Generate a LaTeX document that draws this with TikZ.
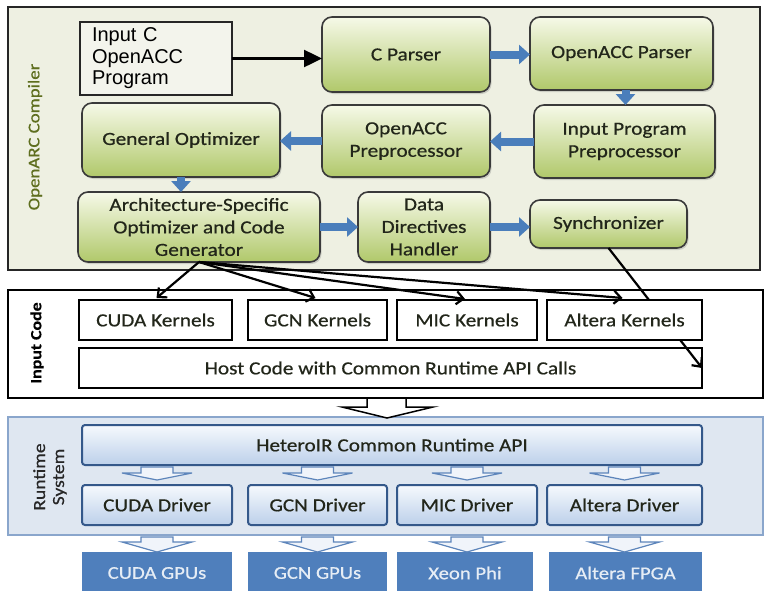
\documentclass[tikz,border=0pt]{standalone}
\usepackage{fontspec}
\setmainfont{Carlito}[FakeStretch=1.15,FakeBold=0.6]
\newfontfamily\arialfont{Liberation Sans}
\usetikzlibrary{arrows.meta,calc,shadows}
\definecolor{cpbg}{HTML}{EEF0E2}
\definecolor{gtop}{HTML}{F6F9E8}
\definecolor{gbot}{HTML}{B0C86A}
\definecolor{gborder}{HTML}{3A3A3A}
\definecolor{oarc}{HTML}{5E6E1E}
\definecolor{blkarrow}{HTML}{4A7EBB}
\definecolor{rtbg}{HTML}{DFE7F1}
\definecolor{rtborder}{HTML}{8AA6CC}
\definecolor{btop}{HTML}{F6F9FD}
\definecolor{bbot}{HTML}{BCD0EA}
\definecolor{bborder}{HTML}{34588A}
\definecolor{hwfill}{HTML}{4F7FBC}
\definecolor{hwtext}{HTML}{E6EDF5}
\definecolor{sarrfill}{HTML}{F0F4FA}
\definecolor{sarrdraw}{HTML}{5D85BB}
\definecolor{inbg}{HTML}{F3F4EC}
\definecolor{gtext}{HTML}{22261A}
\begin{document}
\begin{tikzpicture}[x=1pt,y=-1pt,
  panel/.style={inner sep=0pt,outer sep=0pt},
  gbox/.style={draw=gborder,line width=1.6pt,rounded corners=10pt,top color=gtop,bottom color=gbot,
    drop shadow={shadow xshift=1.5pt,shadow yshift=-2pt,opacity=0.3},
    align=center,text=gtext,font=\fontsize{18.5}{22.5}\selectfont,inner sep=0pt,outer sep=0pt},
  kbox/.style={draw=black,line width=1.8pt,fill=white,text=gtext,font=\fontsize{18.5}{22.5}\selectfont,inner sep=0pt,outer sep=0pt},
  bbox/.style={draw=bborder,line width=2pt,rounded corners=3pt,top color=btop,bottom color=bbot,text=gtext,
    font=\fontsize{18.5}{22.5}\selectfont,inner sep=0pt,outer sep=0pt},
  hbox/.style={fill=hwfill,text=hwtext,font=\fontsize{18}{22}\selectfont,inner sep=0pt,outer sep=0pt},
  blk/.style={draw=blkarrow,line width=8pt,-{Triangle[width=19pt,length=11pt]}},
  karr/.style={line width=2.2pt,-{Straight Barb[length=7pt,width=13pt]}},
  sarr/.style={fill=sarrfill,draw=sarrdraw,line width=1.2pt,line join=miter},
  arrA/.pic={\path[sarr] (-16,0) -- (16,0) -- (16,6) -- (35,6) -- (0,13) -- (-35,6) -- (-16,6) -- cycle;},
  arrB/.pic={\path[sarr] (-16,0) -- (16,0) -- (16,5) -- (35,5) -- (0,15) -- (-35,5) -- (-16,5) -- cycle;},
  sidelabel/.style={rotate=90,inner sep=0pt,align=center}
]
\useasboundingbox (0,0) rectangle (765,590);
\clip (0,0) rectangle (765,590);
\fill[white] (0,0) rectangle (765,590);

% ---------------- Compiler panel ----------------
\node[panel,draw=black!85,line width=2pt,fill=cpbg,minimum width=752pt,minimum height=263pt] (compiler) at (384,138.5) {};
\node[sidelabel,text=oarc,font=\fontsize{16.4}{19}\selectfont] (complabel) at (35,137) {OpenARC Compiler};

\node[panel,draw=black!85,line width=1.2pt,fill=inbg,minimum width=152pt,minimum height=73pt,
  text width=128pt,inner xsep=12pt,align=left,font=\arialfont\fontsize{20}{21.5}\selectfont] (inprog) at (156,58.5)
  {Input C\\OpenACC\\Program};

\node[gbox,minimum width=168pt,minimum height=75pt] (cparser) at (406,54.5) {C Parser};
\node[gbox,minimum width=183pt,minimum height=73pt] (oaccp) at (621.5,53.5) {OpenACC Parser};
\node[gbox,minimum width=181pt,minimum height=73pt] (ipp) at (624.5,141.5) {Input Program\\Preprocessor};
\node[gbox,minimum width=168pt,minimum height=72pt] (oap) at (406,141) {OpenACC\\Preprocessor};
\node[gbox,minimum width=198pt,minimum height=74pt] (genopt) at (181,140) {General Optimizer};
\node[gbox,minimum width=242pt,minimum height=70pt] (arch) at (199,227) {Architecture-Specific\\Optimizer and Code\\Generator};
\node[gbox,minimum width=132pt,minimum height=70pt] (data) at (424,227) {Data\\Directives\\Handler};
\node[gbox,minimum width=157pt,minimum height=48pt] (sync) at (608.5,224) {Synchronizer};

\draw[line width=2.5pt,-{Triangle[length=18pt,width=17pt]}] (inprog.east) -- (inprog.east -| cparser.west);
\draw[blk] (cparser.east) -- (cparser.east -| oaccp.west);
\draw[blk] ([xshift=4pt]oaccp.south) -- ([xshift=4pt]oaccp.south |- ipp.north);
\draw[blk] (ipp.west) -- (ipp.west -| oap.east);
\draw[blk] (oap.west) -- (oap.west -| genopt.east);
\draw[blk] (genopt.south) -- (genopt.south |- arch.north);
\draw[blk] (arch.east) -- (arch.east -| data.west);
\draw[blk] (data.east) -- (data.east -| sync.west);

% ---------------- Input Code panel ----------------
\node[panel,draw=black,line width=2pt,fill=white,minimum width=755pt,minimum height=108pt] (inputcode) at (385.5,344) {};
\node[sidelabel,font=\bfseries\fontsize{15.5}{18}\selectfont] (inlabel) at (37,343) {Input Code};
\node[kbox,minimum width=623pt,minimum height=40pt] (host) at (390.5,368) {Host Code with Common Runtime API Calls};

\draw[karr] (sync.south) -- (host.east);

\node[kbox,minimum width=153pt,minimum height=40pt] (cudak) at (155.5,320) {CUDA Kernels};
\node[kbox,minimum width=139pt,minimum height=40pt] (gcnk) at (317.5,320) {GCN Kernels};
\node[kbox,minimum width=140pt,minimum height=40pt] (mick) at (467,320) {MIC Kernels};
\node[kbox,minimum width=155pt,minimum height=40pt] (alterak) at (624.5,320) {Altera Kernels};

\draw[karr] (arch.south) -- ([shift={(1pt,2pt)}]cudak.north);
\draw[karr] (arch.south) -- ([shift={(-2pt,2pt)}]gcnk.north);
\draw[karr] (arch.south) -- ([shift={(-2pt,1pt)}]mick.north);
\draw[karr] (arch.south) -- ([shift={(-2pt,2pt)}]alterak.north);

% ---------------- Runtime panel ----------------
\node[panel,draw=rtborder,line width=1.5pt,fill=rtbg,minimum width=755pt,minimum height=118pt] (runtime) at (385.5,476) {};
\node[sidelabel,text=black!85,font=\fontsize{17}{19}\selectfont] (rtlabel) at (50,477) {Runtime\\System};

\path[fill=white,draw=black,line width=1.5pt,line join=miter]
  (367,398) -- (406,398) -- (406,407) -- (433,407) -- (387,418) -- (342,407) -- (367,407) -- cycle;

\node[bbox,minimum width=620pt,minimum height=40pt] (api) at (392,445) {HeteroIR Common Runtime API};
\node[bbox,minimum width=150pt,minimum height=40pt] (cudad) at (157,505) {CUDA Driver};
\node[bbox,minimum width=139pt,minimum height=40pt] (gcnd) at (317.5,505) {GCN Driver};
\node[bbox,minimum width=140pt,minimum height=40pt] (micd) at (467,505) {MIC Driver};
\node[bbox,minimum width=155pt,minimum height=40pt] (alterad) at (624.5,505) {Altera Driver};

\pic at ($(cudad.north |- api.south)+(0,2)$) {arrA};
\pic at ($(gcnd.north |- api.south)+(0,2)$) {arrA};
\pic at ($(micd.north |- api.south)+(0,2)$) {arrA};
\pic at ($(alterad.north |- api.south)+(0,2)$) {arrA};

\node[hbox,minimum width=150pt,minimum height=42pt] (cudag) at (157,573) {CUDA GPUs};
\node[hbox,minimum width=139pt,minimum height=42pt] (gcng) at (317.5,573) {GCN GPUs};
\node[hbox,minimum width=136pt,minimum height=42pt] (xeon) at (465,573) {Xeon Phi};
\node[hbox,minimum width=153pt,minimum height=42pt] (fpga) at (625.5,573) {Altera FPGA};

\pic at ($(cudad.south)+(0,12)$) {arrB};
\pic at ($(gcnd.south)+(0,12)$) {arrB};
\pic at ($(micd.south)+(0,12)$) {arrB};
\pic at ($(alterad.south)+(0,12)$) {arrB};
\end{tikzpicture}
\end{document}
